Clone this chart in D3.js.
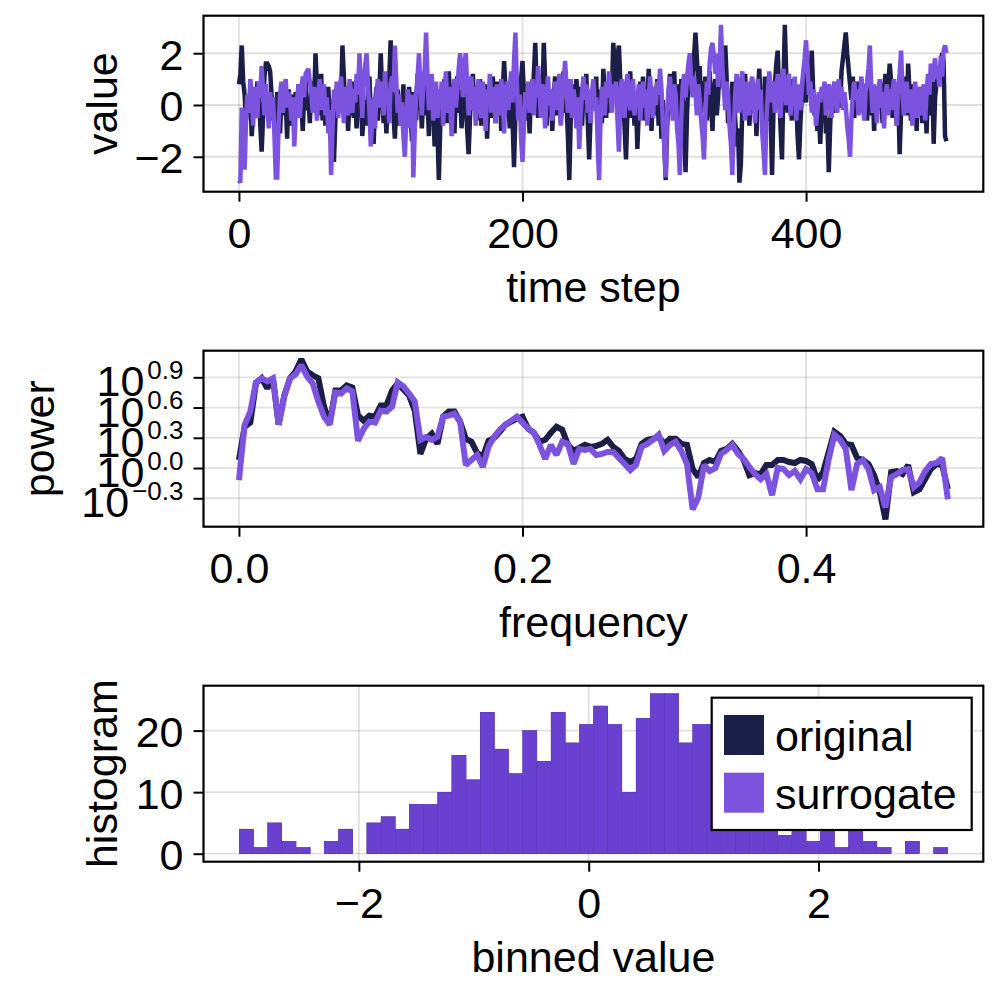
<!DOCTYPE html>
<html><head><meta charset="utf-8">
<script src="https://cdn.jsdelivr.net/npm/d3@7"></script>
<style>
body{margin:0;background:#fff}
svg{display:block}
text{font-family:"Liberation Sans",Arial,Helvetica,sans-serif;fill:#000}
</style>
</head><body>
<svg id="chart" width="1000" height="1000"></svg>
<script>
// ---------------- DATA ----------------
// time series (one value per time step, t = 0..499)
const timeOriginal = [
0.8,1.2,2.3,0.9,0.4,-0.6,0.3,-0.2,0.5,-1.2,-0.4,0.6,-0.3,0.9,0.2,-0.7,-1.8,-0.5,1.1,1.6,
1.6,1.5,1.3,0.4,-0.6,0.2,-0.9,0.5,-0.1,-1.1,0.3,0.7,-0.4,0.1,-1.3,0.6,0.2,-0.8,0.4,-0.2,
0.5,-0.5,0.8,-0.3,0.2,-1.0,0.4,1.0,-0.2,0.3,-0.7,0.6,0.9,0.1,2.0,0.8,-0.4,0.5,1.2,-0.6,
0.3,-0.8,0.1,0.7,-0.5,-1.4,0.2,-2.2,-0.6,0.4,-0.3,0.8,0.2,2.3,1.1,-0.2,0.6,-1.0,0.3,-0.4,
0.9,-0.5,0.1,-0.9,0.4,-0.2,0.6,-1.2,-0.4,0.2,-0.8,0.5,1.1,-0.3,0.3,-1.5,0.0,0.7,-0.6,0.4,
2.0,0.6,-0.7,0.3,-1.1,0.2,1.0,2.5,0.9,-0.4,-1.3,0.1,0.6,-0.8,0.2,-0.3,0.8,-1.0,0.4,-0.5,
0.7,-0.2,-1.4,0.5,0.1,-0.6,1.2,-0.1,0.4,-0.9,0.3,-0.4,0.9,0.2,-1.2,0.6,-0.5,0.1,-1.6,-0.3,
-1.0,-2.9,-0.8,0.5,-0.2,1.0,0.3,-0.7,1.3,0.2,-0.5,0.8,-1.1,0.4,1.1,-0.3,0.6,-0.9,0.2,0.9,
0.1,-1.0,-1.9,-0.4,0.5,1.2,-0.2,0.7,-0.6,0.3,1.0,-0.8,0.4,-0.1,0.8,-1.3,0.2,0.6,-0.5,1.1,
0.3,-0.7,0.9,-0.2,0.5,-1.0,0.4,1.7,0.6,-0.4,0.2,-0.9,0.7,-0.6,-2.4,-0.3,0.8,0.1,-0.5,1.0,
1.7,0.4,-0.6,0.8,0.2,-1.1,0.5,-0.3,1.2,2.4,0.7,-0.5,0.3,1.0,0.1,2.4,0.9,-0.8,0.4,-0.2,
0.6,-1.0,0.3,1.1,-0.4,0.2,0.9,-0.7,0.5,1.3,-0.3,0.1,-1.2,-2.9,-0.6,0.8,0.2,-0.5,1.0,0.4,
-0.3,0.7,-0.8,0.5,0.0,1.2,-0.6,-2.1,-0.4,0.3,0.9,-0.2,1.1,-1.0,0.6,0.2,-0.7,1.4,0.3,-0.5,
0.8,-0.3,1.0,0.4,2.4,1.6,0.7,1.9,2.3,0.9,-0.4,0.5,-0.9,-2.1,-0.2,0.6,1.3,-0.5,0.2,-0.8,
0.4,-1.7,-0.3,0.9,0.2,1.1,-0.6,0.5,-0.1,1.4,0.3,-1.0,0.7,-0.4,0.1,1.0,-0.8,0.6,-1.3,0.2,
-1.5,-2.9,-0.9,0.4,1.2,-0.2,0.6,1.3,-0.5,0.8,0.1,-0.7,1.0,0.4,-1.1,-2.6,-0.4,0.9,1.5,0.6,
1.2,1.9,2.8,1.8,0.7,1.5,-0.3,0.9,0.2,1.1,-0.6,0.5,1.3,0.0,-1.0,0.6,1.0,-0.4,0.3,1.6,
0.8,1.4,0.6,2.3,1.0,-0.7,0.4,-1.3,0.9,0.2,-0.5,-1.6,-0.9,-3.0,-2.3,-0.2,0.8,1.2,-0.4,0.5,
-0.8,0.3,1.0,-0.3,0.7,-1.2,0.5,1.4,-0.1,0.6,-0.9,1.1,0.2,-0.6,0.9,-0.4,-2.7,-0.2,0.8,1.6,
2.1,0.5,-0.9,-2.1,0.6,3.1,1.2,-0.3,0.8,0.2,-0.6,1.0,-0.2,0.4,-1.2,-2.1,-0.7,0.3,1.1,0.6,
0.1,1.4,0.5,0.9,2.1,0.6,-0.4,0.3,-1.0,-0.3,-1.5,0.2,-0.6,0.5,-1.1,-0.5,-2.6,-0.8,0.4,-0.2,
0.6,-0.3,0.2,0.9,-0.1,1.3,1.8,2.3,2.8,2.0,1.4,0.8,0.2,1.1,-0.5,0.4,0.9,-0.2,0.5,1.0,
-0.3,0.4,0.8,-0.6,0.2,1.0,-0.4,0.5,-1.0,0.3,0.7,-0.2,0.9,0.1,-0.7,0.6,1.2,0.2,0.8,1.6,
0.9,-0.5,0.6,0.1,-0.8,0.4,-1.9,-0.3,0.7,0.2,1.1,-0.4,1.6,0.5,-0.6,0.8,-0.2,0.3,-1.0,0.6,
-0.2,0.7,-0.7,0.4,0.1,-1.1,0.6,0.2,-0.4,0.9,-1.5,0.3,0.8,1.3,1.0,1.6,2.0,1.7,-1.2,-1.4
];
const timeSurrogate = [
-2.9,-3.0,-0.1,-1.2,-2.5,-0.6,0.4,-0.3,1.0,0.5,-0.8,0.7,0.2,-0.5,0.9,0.3,1.5,0.6,-0.4,0.8,
0.1,-0.9,0.5,-0.2,0.3,-1.1,-2.8,-2.8,-0.7,0.4,0.9,-0.3,0.6,1.0,-0.1,0.5,0.2,-0.6,0.3,-1.6,
-0.4,0.2,0.8,-0.5,0.6,1.1,0.3,1.2,1.3,1.4,0.9,0.5,-0.3,0.7,0.2,-0.6,0.4,1.0,-0.2,0.5,
0.8,-0.4,0.3,-1.1,-0.2,-2.7,-0.9,0.6,0.1,0.9,-0.5,0.4,1.1,0.2,-0.7,0.7,0.3,-0.4,1.0,0.5,
-0.3,0.6,0.1,1.2,0.4,2.0,0.7,-0.5,0.9,1.5,2.0,0.8,-0.2,-1.6,-0.6,0.3,-0.9,0.5,1.0,-0.1,
0.4,0.9,-0.4,1.3,0.2,0.6,-0.7,0.8,1.1,0.5,2.3,0.9,-0.3,0.4,-0.8,0.1,-1.2,-2.0,-0.5,0.6,
0.2,-0.9,0.4,-2.8,-1.0,0.5,1.1,2.0,0.6,-0.4,0.8,1.4,2.8,1.0,-0.2,0.5,1.2,-0.6,0.3,0.9,
-0.5,0.6,0.1,0.9,-0.8,0.4,1.3,-0.3,0.7,0.2,-1.2,0.5,1.0,-0.1,0.6,1.4,2.0,1.2,0.3,1.6,
2.0,0.8,-0.4,0.5,1.1,-0.2,0.7,-0.8,0.4,1.0,0.1,-0.5,0.9,0.3,-1.0,0.6,0.2,1.2,-0.3,0.7,
0.4,-0.7,0.8,0.2,-0.4,1.0,0.5,-1.1,0.3,0.9,-0.2,0.6,1.3,0.1,1.7,2.8,0.9,-0.6,0.4,-1.3,
-2.2,-0.8,0.5,0.1,0.9,-0.3,0.6,1.0,-0.4,0.7,0.3,1.5,0.6,-0.5,0.8,0.2,-0.9,0.4,1.1,0.0,
0.6,-0.6,0.3,0.9,-0.2,0.5,1.2,-0.8,0.2,0.7,1.7,0.8,-0.3,0.4,1.0,-0.5,0.6,0.1,-0.9,0.3,
-1.7,-0.4,0.5,1.1,0.2,0.8,-0.3,0.6,-0.7,0.4,1.0,-0.2,0.3,-1.4,-2.9,-0.6,0.7,0.2,-0.4,0.9,
0.3,1.3,0.5,-0.3,0.8,0.1,0.9,-0.6,-1.8,0.4,1.0,0.2,-0.5,0.7,1.2,0.3,-0.2,0.6,1.0,-0.4,
0.5,0.1,0.8,-0.6,0.4,0.9,-0.1,0.6,-0.8,0.3,1.1,0.2,-0.5,0.7,0.0,0.9,0.4,1.4,0.6,-0.7,
-1.6,-2.8,-0.4,0.6,1.1,0.2,-0.6,0.8,0.4,-0.9,-1.5,-2.7,-0.5,0.7,1.2,0.3,1.0,1.6,2.0,0.9,
0.3,1.1,0.5,-0.4,0.8,0.2,-0.6,-1.2,-2.1,-0.3,0.9,0.4,1.6,2.2,2.4,1.9,1.2,2.0,0.7,1.5,
3.1,1.4,0.6,-0.2,0.9,0.3,-0.8,-1.5,-2.7,-0.9,0.4,1.2,0.6,-0.3,0.8,1.3,0.2,-0.6,0.9,0.4,
-0.4,0.7,1.1,0.2,-0.7,0.5,1.0,-0.2,0.6,-1.0,-1.8,-2.7,-0.6,0.4,1.3,0.7,0.1,0.9,-0.3,0.5,
1.2,0.3,-0.5,0.8,1.4,0.6,0.0,0.9,1.2,-0.4,0.5,0.2,1.1,-0.6,0.4,0.8,-0.2,0.6,1.3,1.8,
2.5,1.5,0.4,0.9,-0.3,0.6,0.2,-0.8,-0.2,0.5,0.1,0.7,0.4,0.9,-0.4,0.3,0.8,0.2,-0.5,0.6,
0.9,0.3,-0.3,1.0,0.4,0.7,-0.2,0.5,0.0,-0.8,-1.3,-2.0,-0.5,0.4,0.9,0.2,0.6,-0.4,0.3,1.1,
0.1,-0.6,0.5,0.9,1.4,2.3,0.6,-0.3,0.8,0.2,-0.7,0.4,1.0,-0.1,0.5,-0.9,0.3,0.8,-0.4,0.6,
-0.2,0.5,1.0,0.2,-0.8,0.6,1.2,2.1,0.5,-0.4,0.3,0.9,-0.3,0.6,0.1,-0.8,0.4,0.9,-0.5,0.3,
0.7,-0.4,0.2,0.8,-0.6,0.5,1.2,0.4,1.6,0.9,1.4,1.8,1.0,1.5,0.7,1.9,1.1,2.1,2.3,2.0
];

// power spectrum: log10(power) at frequencies 0, 0.004, ..., 0.5
const freqStep = 0.004;
const powerOriginalLog10 = [
0.08,0.41,0.45,0.84,0.89,0.79,0.89,0.43,0.72,0.89,0.96,1.08,0.96,0.92,0.89,0.61,0.44,0.77,0.77,0.82,
0.80,0.52,0.47,0.52,0.51,0.62,0.62,0.77,0.84,0.78,0.72,0.57,0.14,0.29,0.34,0.24,0.51,0.56,0.56,0.46,
0.29,0.26,0.15,0.11,0.27,0.30,0.36,0.43,0.46,0.49,0.51,0.39,0.35,0.26,0.28,0.35,0.41,0.38,0.23,0.17,
0.20,0.23,0.21,0.22,0.24,0.28,0.21,0.17,0.09,0.06,0.09,0.24,0.28,0.29,0.31,0.24,0.29,0.29,0.24,0.23,
-0.01,-0.09,0.05,0.08,0.06,0.17,0.19,0.24,0.17,0.08,-0.07,-0.05,-0.06,0.03,0.03,0.08,0.08,0.06,0.05,0.08,
0.07,0.04,-0.12,-0.04,0.16,0.36,0.32,0.24,0.23,0.10,0.08,0.04,-0.07,-0.24,-0.51,-0.04,-0.03,-0.06,0.03,-0.24,
-0.21,-0.11,-0.01,0.04,0.03,-0.21
];
const powerSurrogateLog10 = [
-0.12,0.43,0.56,0.85,0.89,0.86,0.89,0.43,0.71,0.89,0.93,1.02,0.91,0.84,0.66,0.51,0.43,0.75,0.74,0.79,
0.76,0.27,0.39,0.46,0.45,0.57,0.56,0.61,0.85,0.81,0.74,0.66,0.28,0.31,0.28,0.31,0.51,0.52,0.54,0.46,
0.03,0.08,0.13,0.01,0.21,0.31,0.38,0.43,0.47,0.51,0.45,0.39,0.35,0.23,0.09,0.23,0.13,0.26,0.24,0.04,
0.19,0.18,0.19,0.13,0.14,0.16,0.16,0.10,0.04,-0.02,0.03,0.21,0.24,0.28,0.33,0.17,0.23,0.26,0.17,0.04,
-0.41,-0.29,0.03,-0.03,0.00,0.14,0.18,0.23,0.14,0.09,0.01,-0.06,-0.11,-0.06,-0.27,0.00,-0.01,-0.07,-0.03,-0.11,
-0.01,-0.05,-0.21,-0.21,0.09,0.33,0.28,0.19,-0.22,0.04,0.08,-0.01,-0.22,-0.19,-0.39,-0.09,-0.06,-0.02,-0.01,-0.19,
-0.14,-0.03,0.04,0.05,0.10,-0.31
];

// histogram (identical value distribution for original and surrogate)
const binStart = -3.04;
const binWidth = 0.1233;
const histCounts = [
4,1,5,2,1,0,2,4,0,5, 6,4,8,8,10,16,12,23,17,13,
20,15,23,18,21,24,21,10,22,26, 26,18,21,21,15,13,10,7,3,6,
2,5,1,5,2,1,0,2,0,1
];

// ticks
const ticksTimeX = [0, 200, 400];
const ticksTimeY = [-2, 0, 2];
const ticksFreqX = [0, 0.2, 0.4];
const ticksPowerExp = [-0.3, 0.0, 0.3, 0.6, 0.9];
const ticksHistX = [-2, 0, 2];
const ticksHistY = [0, 10, 20];
const seriesNames = ["original", "surrogate"];

// ---------------- STYLE ----------------
const colOriginal = "#1b1e46";
const colSurrogate = "#7c53df";
const colHist = "#6940cf";
const FS = 43;
const L = 203.5, R = 983.3;
const P1 = {top: 15.7, bottom: 191.7};
const P2 = {top: 350.7, bottom: 526.7};
const P3 = {top: 685.7, bottom: 861.7};
const minus = s => String(s).replace("-", "\u2212");

const svg = d3.select("#chart");

function grid(p, x, y, xt, yt) {
  const g = svg.append("g");
  g.selectAll("line.gx").data(xt).join("line")
    .attr("x1", d => x(d)).attr("x2", d => x(d))
    .attr("y1", p.top).attr("y2", p.bottom)
    .attr("stroke", "rgba(0,0,0,0.12)").attr("stroke-width", 1.8);
  g.selectAll("line.gy").data(yt).join("line")
    .attr("y1", d => y(d)).attr("y2", d => y(d))
    .attr("x1", L).attr("x2", R)
    .attr("stroke", "rgba(0,0,0,0.12)").attr("stroke-width", 1.8);
}
function clip(id, p) {
  svg.append("clipPath").attr("id", id).append("rect")
    .attr("x", L).attr("y", p.top).attr("width", R - L).attr("height", p.bottom - p.top);
}
function frameAndTicks(p, x, y, xt, yt, xfmt, yfmt, xlabel, ylabel, ylabelX) {
  const g = svg.append("g");
  const ax = g.append("g").attr("transform", `translate(0,${p.bottom})`)
    .call(d3.axisBottom(x).tickValues(xt).tickSize(10).tickPadding(16).tickFormat(xfmt));
  const ay = g.append("g").attr("transform", `translate(${L},0)`)
    .call(d3.axisLeft(y).tickValues(yt).tickSize(10).tickPadding(10).tickFormat(yfmt));
  [ax, ay].forEach(a => {
    a.select(".domain").remove();
    a.selectAll(".tick line").attr("stroke", "#000").attr("stroke-width", 2);
    a.selectAll(".tick text").attr("font-size", FS).attr("fill", "#000")
      .style("font-family", '"Liberation Sans",Arial,sans-serif');
  });
  ay.selectAll(".tick text").attr("dy", 16).attr("x", -20);
  g.append("rect").attr("x", L).attr("y", p.top).attr("width", R - L).attr("height", p.bottom - p.top)
    .attr("fill", "none").attr("stroke", "#000").attr("stroke-width", 2.2);
  g.append("text").attr("x", (L + R) / 2).attr("y", p.bottom + 110.5)
    .attr("text-anchor", "middle").attr("font-size", FS).text(xlabel);
  g.append("text").attr("transform", `translate(${ylabelX},${(p.top + p.bottom) / 2}) rotate(-90)`)
    .attr("text-anchor", "middle").attr("font-size", FS).text(ylabel);
  return ay;
}

// ---------------- PANEL 1: time series ----------------
const x1 = d3.scaleLinear().domain([-25, 525]).range([L, R]);
const y1 = d3.scaleLinear().domain([-3.35, 3.45]).range([P1.bottom, P1.top]);
grid(P1, x1, y1, ticksTimeX, ticksTimeY);
clip("c1", P1);
const line1 = d3.line().x((d, i) => x1(i)).y(d => y1(d));
svg.append("g").attr("clip-path", "url(#c1)").selectAll("path")
  .data([[timeOriginal, colOriginal], [timeSurrogate, colSurrogate]]).join("path")
  .attr("d", d => line1(d[0])).attr("fill", "none").attr("stroke", d => d[1])
  .attr("stroke-width", 4.5).attr("stroke-linejoin", "miter").attr("stroke-miterlimit", 2);
frameAndTicks(P1, x1, y1, ticksTimeX, ticksTimeY, d => String(d), d => minus(d), "time step", "value", 117);

// ---------------- PANEL 2: power spectrum ----------------
const freqs = powerOriginalLog10.map((_, i) => i * freqStep);
const x2 = d3.scaleLinear().domain([-0.025, 0.525]).range([L, R]);
const y2 = d3.scaleLog().domain([Math.pow(10, -0.582), Math.pow(10, 1.164)]).range([P2.bottom, P2.top]);
const tickPow = ticksPowerExp.map(e => Math.pow(10, e));
grid(P2, x2, y2, ticksFreqX, tickPow);
clip("c2", P2);
const line2 = d3.line().x((d, i) => x2(freqs[i])).y(d => y2(Math.pow(10, d)));
svg.append("g").attr("clip-path", "url(#c2)").selectAll("path")
  .data([[powerOriginalLog10, colOriginal], [powerSurrogateLog10, colSurrogate]]).join("path")
  .attr("d", d => line2(d[0])).attr("fill", "none").attr("stroke", d => d[1])
  .attr("stroke-width", 6).attr("stroke-linejoin", "miter").attr("stroke-miterlimit", 2);
const ay2 = frameAndTicks(P2, x2, y2, ticksFreqX, tickPow, d => d.toFixed(1), () => "", "frequency", "power", 54);
ay2.selectAll(".tick text").remove();
ay2.selectAll(".tick").each(function(d, i) {
  const t = d3.select(this).append("text").attr("x", -20).attr("y", 18.5)
    .attr("text-anchor", "end").attr("fill", "#000")
    .style("font-family", '"Liberation Sans",Arial,sans-serif');
  t.append("tspan").attr("font-size", FS).text("10");
  t.append("tspan").attr("font-size", 26).attr("dy", -17.5).attr("dx", 3)
    .text(minus(ticksPowerExp[i].toFixed(1)));
});

// ---------------- PANEL 3: histogram ----------------
const x3 = d3.scaleLinear().domain([-3.352, 3.434]).range([L, R]);
const y3 = d3.scaleLinear().domain([-1.3, 27.3]).range([P3.bottom, P3.top]);
grid(P3, x3, y3, ticksHistX, ticksHistY);
const bins = histCounts.map((c, i) => ({x0: binStart + i * binWidth, x1: binStart + (i + 1) * binWidth, c}))
  .filter(b => b.c > 0);
[colOriginal, colHist].forEach(col => {
  svg.append("g").selectAll("rect").data(bins).join("rect")
    .attr("x", b => x3(b.x0)).attr("width", b => x3(b.x1) - x3(b.x0))
    .attr("y", b => y3(b.c)).attr("height", b => y3(0) - y3(b.c))
    .attr("fill", col).attr("stroke", col).attr("stroke-width", 0.3);
});
frameAndTicks(P3, x3, y3, ticksHistX, ticksHistY, d => minus(d), d => String(d), "binned value", "histogram", 117);

// legend
const lg = svg.append("g");
lg.append("rect").attr("x", 711.7).attr("y", 697.7).attr("width", 260).attr("height", 132.3)
  .attr("fill", "#fff").attr("stroke", "#000").attr("stroke-width", 2.2);
seriesNames.forEach((name, i) => {
  const cy = 735 + i * 57.7;
  lg.append("rect").attr("x", 724).attr("y", cy - 20).attr("width", 40).attr("height", 40)
    .attr("fill", i === 0 ? colOriginal : colSurrogate);
  lg.append("text").attr("x", 775).attr("y", cy + 16).attr("font-size", FS).text(name);
});
</script>
</body></html>
